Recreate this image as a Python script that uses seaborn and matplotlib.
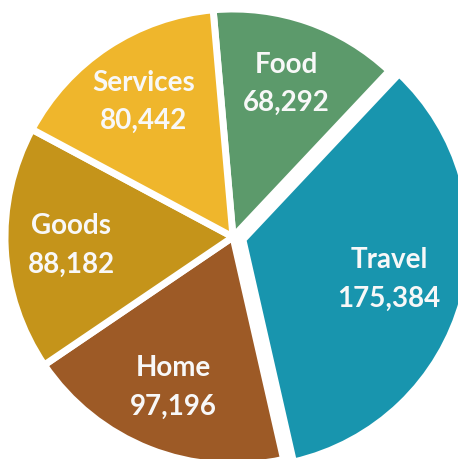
import matplotlib
matplotlib.use("Agg")
import matplotlib.pyplot as plt
import seaborn as sns
import numpy as np

# Spending by category
categories = ["Food", "Travel", "Home", "Goods", "Services"]
values = [68292, 175384, 97196, 88182, 80442]
colors = ["#5c9a6b", "#1895ae", "#9d5a26", "#c5941a", "#efb62c"]
explode = [0, 0.045, 0, 0, 0]

sns.set_theme(style="white")
plt.rcParams["font.family"] = ["Lato", "DejaVu Sans"]
palette = sns.color_palette(colors)

fig = plt.figure(figsize=(4.58, 4.59), dpi=100)
ax = fig.add_axes([0, 0, 1, 1])

wedges, _ = ax.pie(
    values,
    colors=palette,
    startangle=95,
    counterclock=False,
    explode=explode,
    radius=1.0,
    wedgeprops=dict(edgecolor="white", linewidth=5),
)

# Two-line labels placed inside each wedge, measured from the pie centre
for w, name, val in zip(wedges, categories, values):
    mid = np.deg2rad((w.theta1 + w.theta2) / 2)
    r = 0.71
    ax.text(r * np.cos(mid), r * np.sin(mid),
            f"{name}\n{val:,}", ha="center", va="center",
            color="#f8f8f8", fontsize=20, fontweight="bold",
            linespacing=1.6)

scale = 228.0  # pixels per data unit
cx_px, cy_px = 233, 237
ax.set_xlim(-cx_px / scale, (458 - cx_px) / scale)
ax.set_ylim(-(459 - cy_px) / scale, cy_px / scale)
ax.set_aspect("auto")
ax.axis("off")

fig.savefig("out.png", dpi=100, facecolor="white")
